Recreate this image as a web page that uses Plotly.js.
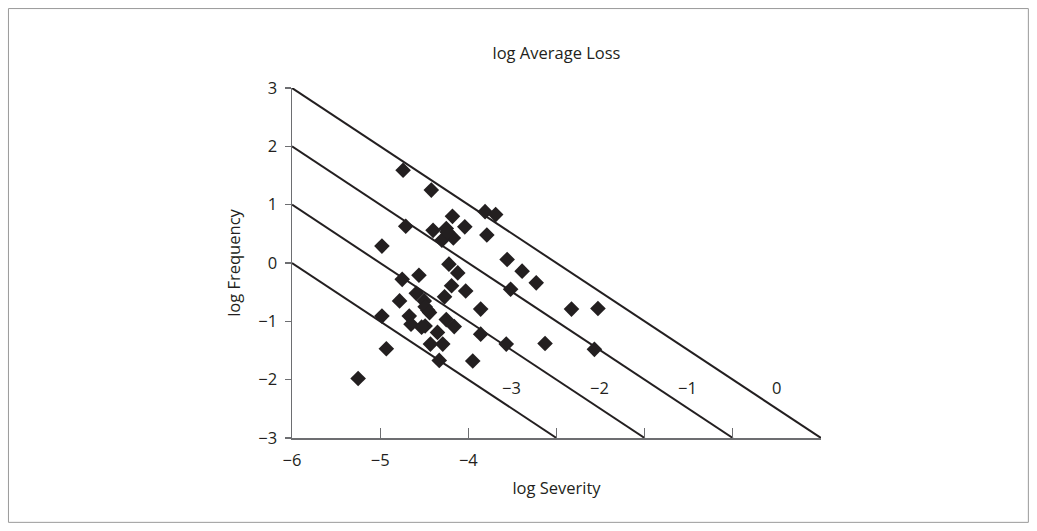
<!DOCTYPE html>
<html>
<head>
<meta charset="utf-8">
<script src="https://cdn.plot.ly/plotly-3.0.1.min.js"></script>
<style>
  html, body { margin: 0; padding: 0; background: #ffffff; }
  #chart { width: 1037px; height: 531px; }
</style>
</head>
<body>
<div id="chart"></div>
<script>
// Observations: log severity (x) and log frequency (y)
const logSeverity = [
  -4.74, -4.42, -3.81, -3.69, -4.18, -4.71, -4.40, -4.04, -4.25, -4.17,
  -4.30, -3.79, -4.98, -3.56, -3.39, -3.23, -3.52, -4.22, -4.12, -4.56,
  -4.75, -4.19, -4.03, -4.27, -4.59, -4.78, -4.50, -3.86, -2.83, -2.53,
  -4.98, -4.67, -4.46, -4.25, -4.16, -4.65, -4.49, -4.35, -3.86, -4.29,
  -4.43, -3.57, -3.13, -2.57, -4.93, -4.33, -3.95, -5.25, -4.24, -4.53,
  -4.49, -4.44
];
const logFrequency = [
   1.59,  1.25,  0.88,  0.83,  0.80,  0.63,  0.56,  0.62,  0.59,  0.43,
   0.39,  0.48,  0.29,  0.06, -0.14, -0.34, -0.45, -0.02, -0.17, -0.21,
  -0.28, -0.39, -0.48, -0.58, -0.52, -0.65, -0.65, -0.79, -0.79, -0.78,
  -0.91, -0.91, -0.81, -0.97, -1.09, -1.05, -1.08, -1.19, -1.22, -1.39,
  -1.39, -1.39, -1.38, -1.48, -1.47, -1.67, -1.68, -1.98,  0.53, -1.10,
  -0.75, -0.85
];

// Iso-loss lines: log Frequency + log Severity = constant
const isoLossSums = [-3, -4, -5, -6];

// Labels of the iso-loss lines and where they sit
const lossLabels = ['\u22123', '\u22122', '\u22121', '0'];
const lossLabelX = [-3.51, -2.51, -1.51, -0.50];
const lossLabelY = [-2.13, -2.13, -2.13, -2.13];

const xTickVals = [-6, -5, -4, -3, -2, -1, 0];
const xTickText = ['\u22126', '\u22125', '\u22124', '', '', '', ''];
const yTickVals = [-3, -2, -1, 0, 1, 2, 3];

const X_MIN = -6, X_MAX = 0, Y_MIN = -3, Y_MAX = 3;
const INK = '#231f20';
const FONT = 'Open Sans, Noto Sans, sans-serif';
const FS = 16.5;

const traces = isoLossSums.map(s => {
  // from the left edge down to the bottom edge of the frame
  const x0 = X_MIN, y0 = s - X_MIN;
  const x1 = s - Y_MIN, y1 = Y_MIN;
  return {
    type: 'scatter', mode: 'lines',
    x: [x0, x1], y: [y0, y1],
    line: { color: INK, width: 2 },
    hoverinfo: 'skip', showlegend: false, cliponaxis: false
  };
});

traces.push({
  type: 'scatter', mode: 'markers',
  x: logSeverity, y: logFrequency,
  marker: { symbol: 'diamond', size: 12, color: INK, line: { width: 0 } },
  showlegend: false, cliponaxis: false
});

const annotations = lossLabels.map((t, i) => ({
  x: lossLabelX[i], y: lossLabelY[i], xref: 'x', yref: 'y',
  text: t, showarrow: false,
  font: { family: FONT, size: FS, color: INK }
}));

const layout = {
  width: 1037, height: 531,
  margin: { l: 292, r: 216, t: 88, b: 93, pad: 0 },
  paper_bgcolor: '#ffffff', plot_bgcolor: '#ffffff',
  font: { family: FONT, size: FS, color: INK },
  title: {
    text: 'log Average Loss',
    font: { family: FONT, size: FS, color: INK },
    x: 0.5, xref: 'paper', xanchor: 'center',
    y: 1 - 53 / 531, yref: 'container', yanchor: 'middle'
  },
  xaxis: {
    range: [X_MIN, X_MAX], fixedrange: true,
    tickmode: 'array', tickvals: xTickVals, ticktext: xTickText,
    ticks: 'inside', ticklen: 10, tickwidth: 1.2, tickcolor: '#6d6e71',
    ticklabelstandoff: 7,
    showline: true, linecolor: '#6d6e71', linewidth: 1.5,
    showgrid: false, zeroline: false,
    tickfont: { family: FONT, size: FS, color: INK },
    title: { text: 'log Severity', standoff: 12, font: { family: FONT, size: FS, color: INK } }
  },
  yaxis: {
    range: [Y_MIN, Y_MAX], fixedrange: true,
    tickmode: 'array', tickvals: yTickVals,
    ticks: 'outside', ticklen: 6, tickwidth: 1.2, tickcolor: '#6d6e71',
    ticklabelstandoff: 4,
    showline: true, linecolor: '#6d6e71', linewidth: 1.5,
    showgrid: false, zeroline: false,
    tickfont: { family: FONT, size: FS, color: INK },
    title: { text: 'log Frequency', standoff: 13, font: { family: FONT, size: FS, color: INK } }
  },
  annotations: annotations,
  shapes: [{
    type: 'rect', xref: 'paper', yref: 'paper', layer: 'below',
    x0: -0.536, x1: 1.392, y0: -0.241, y1: 1.227,
    line: { color: '#9a9a9a', width: 1 }, fillcolor: 'rgba(0,0,0,0)'
  }],
  showlegend: false
};

Plotly.newPlot('chart', traces, layout, { displayModeBar: false, staticPlot: true });
</script>
</body>
</html>
